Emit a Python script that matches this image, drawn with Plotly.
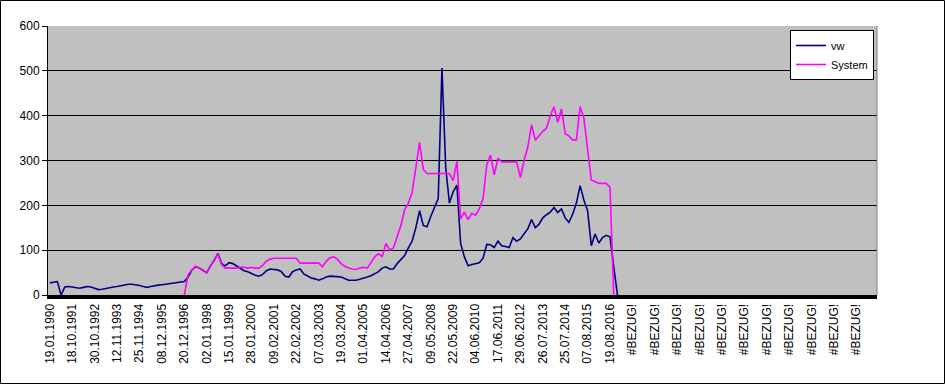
import plotly.graph_objects as go

# Category tick labels (one label every 6 categories)
tick_labels = [
    "19.01.1990", "18.10.1991", "30.10.1992", "12.11.1993", "25.11.1994",
    "08.12.1995", "20.12.1996", "02.01.1998", "15.01.1999", "28.01.2000",
    "09.02.2001", "22.02.2002", "07.03.2003", "19.03.2004", "01.04.2005",
    "14.04.2006", "27.04.2007", "09.05.2008", "22.05.2009", "04.06.2010",
    "17.06.2011", "29.06.2012", "26.07.2013", "25.07.2014", "07.08.2015",
    "19.08.2016",
    "#BEZUG!", "#BEZUG!", "#BEZUG!", "#BEZUG!", "#BEZUG!", "#BEZUG!",
    "#BEZUG!", "#BEZUG!", "#BEZUG!", "#BEZUG!", "#BEZUG!",
]
CATS_PER_LABEL = 6

vw = [
    27, 28, 30, 0, 18, 19, 18, 17, 15, 17,
    19, 18, 15, 12, 13, 15, 17, 18, 19, 21,
    22, 24, 24, 23, 21, 19, 17, 19, 21, 22,
    23, 24, 26, 27, 27, 28, 30, 40, 55, 63,
    60, 55, 50, 65, 77, 93, 70, 65, 72, 70,
    65, 60, 54, 52, 48, 44, 42, 46, 54, 58,
    57, 56, 52, 42, 40, 52, 56, 58, 47, 42,
    38, 36, 33, 36, 40, 42, 42, 41, 40, 36,
    33, 33, 33, 35, 37, 40, 43, 47, 52, 60,
    63, 58, 58, 70, 80, 88, 105, 120, 150, 188,
    155, 152, 175, 195, 215, 506, 285, 205, 230, 245,
    115, 85, 65, 68, 70, 72, 82, 113, 112, 106,
    120, 110, 108, 106, 128, 120, 125, 136, 148, 168,
    150, 158, 172, 179, 185, 195, 184, 192, 172, 162,
    180, 205, 244, 212, 188, 110, 136, 116, 128, 133,
    130, 63, 0,
]

system = [
    None, None, None, None, None, None, None, None, None, None,
    None, None, None, None, None, None, None, None, None, None,
    None, None, None, None, None, None, None, None, None, None,
    None, None, None, None, None, None, 0, 45, 55, 64,
    60, 56, 50, 64, 77, 92, 68, 60, 60, 60,
    60, 62, 62, 60, 62, 60, 60, 66, 76, 80,
    82, 82, 82, 82, 82, 82, 82, 71, 71, 71,
    71, 71, 71, 63, 75, 83, 85, 80, 70, 64,
    60, 58, 57, 60, 62, 60, 72, 85, 92, 86,
    115, 100, 105, 130, 155, 190, 205, 228, 290, 340,
    280, 271, 271, 271, 271, 271, 271, 271, 255, 298,
    170, 185, 168, 182, 178, 192, 215, 290, 312, 268,
    305, 297, 297, 297, 297, 297, 262, 300, 330, 380,
    345, 355, 365, 372, 400, 420, 385, 415, 360, 355,
    346, 346, 420, 395, 330, 256, 253, 249, 249, 249,
    240, 0,
]

# Layout geometry (pixels)
W, H = 945, 384
L, R, T, B = 48, 68, 26, 89
pw, ph = W - L - R, H - T - B

n_cats = CATS_PER_LABEL * len(tick_labels)
x_vw = list(range(len(vw)))
x_sys = list(range(len(system)))
tickvals = [i * CATS_PER_LABEL for i in range(len(tick_labels))]

font_family = "Liberation Sans, Arial, sans-serif"

fig = go.Figure()
fig.add_trace(go.Scatter(
    x=x_vw, y=vw, mode="lines", name="vw",
    line=dict(color="#000080", width=1.6),
))
fig.add_trace(go.Scatter(
    x=x_sys, y=system, mode="lines", name="System",
    line=dict(color="#FF00FF", width=1.6),
))

# Outer chart border and plot-area right edge
fig.add_shape(type="rect", xref="paper", yref="paper",
              x0=(-L + 0.5) / pw, x1=(W - L - 0.5) / pw,
              y0=(-(B) + 0.5) / ph, y1=(ph + T - 0.5) / ph,
              line=dict(color="black", width=1), layer="above")
fig.add_shape(type="line", xref="paper", yref="paper",
              x0=1, x1=1, y0=0, y1=1,
              line=dict(color="#808080", width=1), layer="above")

fig.update_layout(
    width=W, height=H,
    margin=dict(l=L, r=R, t=T, b=B, pad=0),
    paper_bgcolor="white",
    plot_bgcolor="#C0C0C0",
    font=dict(family=font_family, size=12, color="black"),
    showlegend=True,
    legend=dict(
        x=(790 - L) / pw, y=(ph + T - 30) / ph,
        xanchor="left", yanchor="top",
        bgcolor="white", bordercolor="black", borderwidth=1,
        font=dict(family=font_family, size=11, color="black"),
        itemwidth=30, tracegroupgap=0,
    ),
    xaxis=dict(
        range=[-0.5, n_cats - 0.5],
        tickmode="array", tickvals=tickvals, ticktext=tick_labels,
        tickangle=-90,
        showgrid=False, zeroline=False,
        showline=True, linecolor="black", linewidth=4,
        ticks="", layer="above traces",
        tickfont=dict(family=font_family, size=12, color="black"),
    ),
    yaxis=dict(
        range=[0, 600], dtick=100, tick0=0,
        showgrid=True, gridcolor="black", gridwidth=1,
        zeroline=False,
        showline=True, linecolor="black", linewidth=1,
        ticks="outside", ticklen=5, tickcolor="black",
        tickfont=dict(family=font_family, size=12, color="black"),
    ),
)

fig.write_html("out.html", config={"displayModeBar": False},
               post_script="document.body.style.margin='0';")
